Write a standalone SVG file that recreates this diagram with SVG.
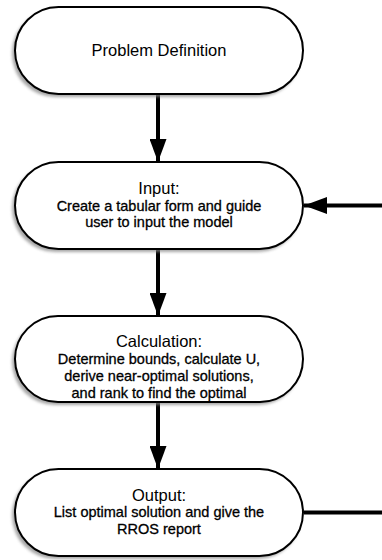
<svg xmlns="http://www.w3.org/2000/svg" width="382" height="560" viewBox="0 0 382 560">
  <style>
    .node { fill: #ffffff; stroke: #000000; stroke-width: 2; }
    .shadow { fill: #8a8a8a; filter: url(#soft); opacity: 0.75; }
    .title { font-family: "Liberation Sans", Arial, sans-serif; font-size: 16.5px; fill: #000; text-anchor: middle; }
    .body { font-family: "Liberation Sans", Arial, sans-serif; font-size: 14.5px; fill: #000; stroke: #000; stroke-width: 0.3; text-anchor: middle; }
    .flow { stroke: #000; stroke-width: 4; fill: none; }
  </style>
  <defs>
    <filter id="soft" x="-10%" y="-20%" width="120%" height="140%">
      <feGaussianBlur stdDeviation="1.5"/>
    </filter>
    <marker id="head" viewBox="0 0 23 17" refX="23" refY="8.5" markerWidth="23" markerHeight="17" markerUnits="userSpaceOnUse" orient="auto">
      <path d="M0,0 L23,8.5 L0,17 Z" fill="#000"/>
    </marker>
  </defs>

  <!-- connectors -->
  <g id="connectors">
    <line class="flow" x1="158" y1="94" x2="158" y2="162" marker-end="url(#head)"/>
    <line class="flow" x1="158" y1="249" x2="158" y2="316" marker-end="url(#head)"/>
    <line class="flow" x1="158" y1="402" x2="158" y2="469" marker-end="url(#head)"/>
    <line class="flow" x1="382" y1="205.5" x2="304" y2="205.5" marker-end="url(#head)"/>
    <line class="flow" x1="304" y1="512.5" x2="382" y2="512.5"/>
  </g>

  <!-- Problem Definition -->
  <g id="problem-definition">
    <rect class="shadow" x="12" y="10" width="289" height="87" rx="43.5"/>
    <rect class="node" x="15" y="7" width="288" height="87" rx="43.5"/>
    <text class="title" x="159" y="56">Problem Definition</text>
  </g>

  <!-- Input -->
  <g id="input">
    <rect class="shadow" x="12" y="165" width="289" height="87" rx="43.5"/>
    <rect class="node" x="15" y="162" width="288" height="87" rx="43.5"/>
    <text class="title" x="159" y="194">Input:</text>
    <text class="body" x="159" y="211">Create a tabular form and guide</text>
    <text class="body" x="159" y="227">user to input the model</text>
  </g>

  <!-- Calculation -->
  <g id="calculation">
    <rect class="shadow" x="12" y="319" width="289" height="86" rx="43"/>
    <rect class="node" x="15" y="316" width="288" height="86" rx="43"/>
    <text class="title" x="159" y="347">Calculation:</text>
    <text class="body" x="159" y="364">Determine bounds, calculate U,</text>
    <text class="body" x="159" y="381">derive near-optimal solutions,</text>
    <text class="body" x="159" y="398">and rank to find the optimal</text>
  </g>

  <!-- Output -->
  <g id="output">
    <rect class="shadow" x="12" y="472" width="289" height="87" rx="43.5"/>
    <rect class="node" x="15" y="469" width="288" height="87" rx="43.5"/>
    <text class="title" x="159" y="501">Output:</text>
    <text class="body" x="159" y="517">List optimal solution and give the</text>
    <text class="body" x="159" y="534">RROS report</text>
  </g>
</svg>
